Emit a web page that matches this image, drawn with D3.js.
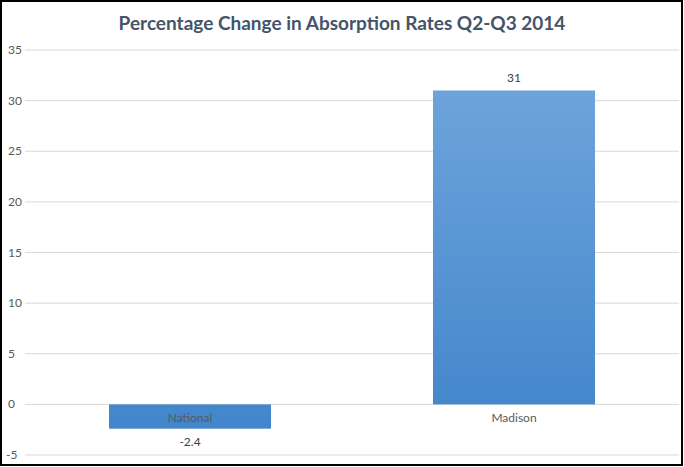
<!DOCTYPE html>
<html><head><meta charset="utf-8">
<script src="https://cdn.jsdelivr.net/npm/d3@7"></script>
<style>body{margin:0;background:#fff}svg{display:block}</style>
</head><body>
<script>
const categories = ["National", "Madison"];
const values = [-2.4, 31];
const yTicks = [-5, 0, 5, 10, 15, 20, 25, 30, 35];
const title = "Percentage Change in Absorption Rates Q2-Q3 2014";

const W = 684, H = 467;
const svg = d3.select("body").append("svg").attr("width", W).attr("height", H);
const font = "Lato, 'Open Sans', sans-serif";

const defs = svg.append("defs");
const g = defs.append("linearGradient").attr("id","bg").attr("x1",0).attr("y1",0).attr("x2",0).attr("y2",1)
  .attr("gradientUnits","userSpaceOnUse");
const y = d3.scaleLinear().domain([-5, 35]).range([455, 50]);
g.attr("y1", y(35)).attr("y2", y(-5));
g.append("stop").attr("offset", 0).attr("stop-color", "#72a7dd");
g.append("stop").attr("offset", 1).attr("stop-color", "#3f83ca");

const x = d3.scaleBand().domain(categories).range([28, 676]).paddingInner(0.5).paddingOuter(0.25);

// border
svg.append("rect").attr("x",1).attr("y",1).attr("width",W-3).attr("height",H-3)
  .attr("fill","none").attr("stroke","#000").attr("stroke-width",2);

// gridlines
svg.append("g").selectAll("line").data(yTicks).join("line")
  .attr("x1", 25).attr("x2", 679).attr("y1", d=>y(d)).attr("y2", d=>y(d))
  .attr("stroke", "#d9d9d9").attr("stroke-width", 1);

// y tick labels
svg.append("g").selectAll("text").data(yTicks).join("text")
  .attr("x", d => d < 0 ? 6 : 8).attr("y", d=>y(d)+4)
  .attr("font-family", font).attr("font-size", 12).attr("fill", "#595959")
  .text(d=>d);

// bars
svg.append("g").selectAll("rect").data(values).join("rect")
  .attr("x", (d,i)=>x(categories[i])).attr("width", x.bandwidth())
  .attr("y", d=>y(Math.max(0,d))).attr("height", d=>Math.abs(y(d)-y(0)))
  .attr("fill", "url(#bg)");

// category labels
svg.append("g").selectAll("text").data(categories).join("text")
  .attr("x", d=>x(d)+x.bandwidth()/2).attr("y", y(0)+18)
  .attr("text-anchor","middle").attr("font-family", font).attr("font-size", 12).attr("fill", "#595959")
  .text(d=>d);

// value labels
svg.append("g").selectAll("text").data(values).join("text")
  .attr("x", (d,i)=>x(categories[i])+x.bandwidth()/2)
  .attr("y", d=> d>=0 ? y(d)-9 : y(d)+17)
  .attr("text-anchor","middle").attr("font-family", font).attr("font-size", 12).attr("fill", "#404040")
  .text(d=>d);

// title
svg.append("text").attr("x", 342).attr("y", 30).attr("text-anchor","middle")
  .attr("font-family", font).attr("font-weight","bold").attr("font-size", 19).attr("fill", "#44546a")
  .text(title);
</script>
</body></html>
